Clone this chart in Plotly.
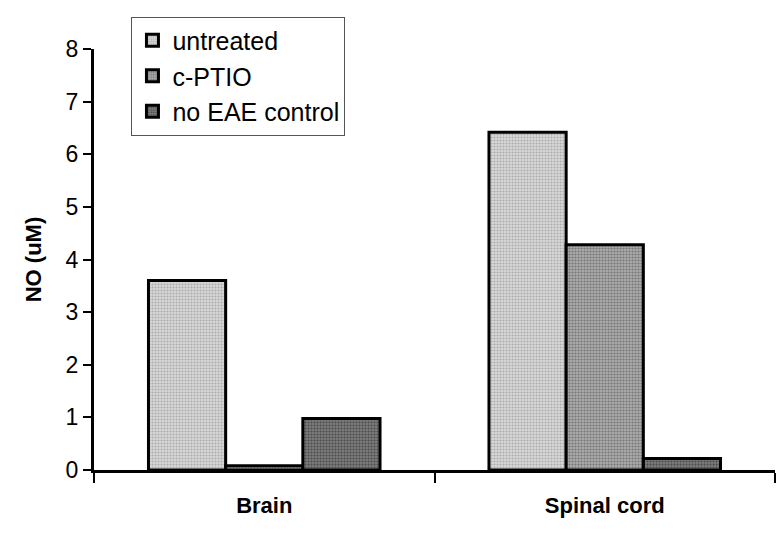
import plotly.graph_objects as go

categories = ["Brain", "Spinal cord"]
untreated = [3.6, 6.42]
c_ptio = [0.08, 4.28]
no_eae = [0.98, 0.22]

series = [
    ("untreated", untreated, "#d8d8d8", "#808080"),
    ("c-PTIO", c_ptio, "#ababab", "#404040"),
    ("no EAE control", no_eae, "#7c7c7c", "#1c1c1c"),
]

FONT = "Liberation Sans, Arial, sans-serif"

fig = go.Figure()
for name, vals, bg, fg in series:
    fig.add_trace(go.Bar(
        x=categories, y=vals, name=name,
        marker=dict(
            color=bg,
            line=dict(color="black", width=3),
            pattern=dict(shape=".", fgcolor=fg, bgcolor=bg, size=3, solidity=0.4),
        ),
    ))

# page body has an 8px margin, so the figure is shrunk by 8px
fig.update_layout(
    width=776, height=526,
    paper_bgcolor="white", plot_bgcolor="white",
    barmode="group", bargap=0.32, bargroupgap=0,
    font=dict(family=FONT, color="black", size=21),
    margin=dict(l=86, r=9, t=39, b=64),
    showlegend=True,
    legend=dict(
        x=0.055, y=1.077, xanchor="left", yanchor="top",
        bgcolor="white", bordercolor="#555", borderwidth=1,
        font=dict(size=25), itemwidth=30, tracegroupgap=0,
    ),
    xaxis=dict(
        showline=True, linecolor="black", linewidth=3,
        ticks="outside", tickson="boundaries", ticklen=10, tickwidth=2, tickcolor="black",
        tickfont=dict(size=22, family=FONT, weight="bold"),
        ticklabelstandoff=14,
        showgrid=False,
    ),
    yaxis=dict(
        range=[0, 8], dtick=1,
        showline=True, linecolor="black", linewidth=3,
        ticks="outside", ticklen=8, tickwidth=2, tickcolor="black",
        tickfont=dict(size=23),
        showgrid=False, zeroline=False,
        title=dict(text="<b>NO (uM)</b>", font=dict(size=22), standoff=18),
    ),
)

fig.write_html("out.html")
